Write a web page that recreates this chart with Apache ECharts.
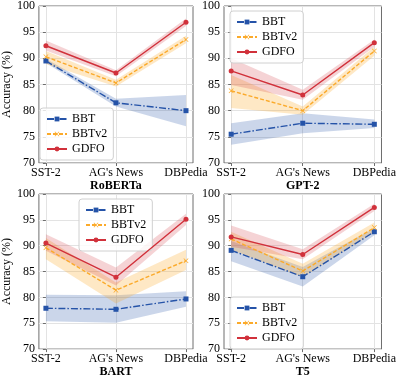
<!DOCTYPE html>
<html>
<head>
<meta charset="utf-8">
<script src="https://cdn.jsdelivr.net/npm/echarts@6/dist/echarts.min.js"></script>
<style>
  html, body { margin: 0; padding: 0; background: #fff; }
  #chart { width: 399px; height: 379px; }
</style>
</head>
<body>
<div id="chart"></div>
<script>
const categories = ['SST-2', "AG's News", 'DBPedia']
const models = ['RoBERTa', 'GPT-2', 'BART', 'T5']
const methods = ['BBT', 'BBTv2', 'GDFO']
const yTicks = [70, 75, 80, 85, 90, 95, 100]

// mean, lower and upper edge of the shaded band, per model and method
const robertaBBT = [89.5, 81.5, 80.0]
const robertaBBTLo = [89.1, 80.8, 77.0]
const robertaBBTHi = [89.9, 82.3, 83.0]
const robertaBBTv2 = [90.3, 85.3, 93.6]
const robertaBBTv2Lo = [88.9, 84.6, 92.9]
const robertaBBTv2Hi = [91.4, 85.9, 94.3]
const robertaGDFO = [92.4, 87.2, 96.9]
const robertaGDFOLo = [91.5, 86.6, 96.2]
const robertaGDFOHi = [93.4, 87.7, 97.6]

const gpt2BBT = [75.5, 77.6, 77.4]
const gpt2BBTLo = [73.5, 75.7, 76.7]
const gpt2BBTHi = [77.6, 79.5, 78.3]
const gpt2BBTv2 = [83.8, 80.0, 91.4]
const gpt2BBTv2Lo = [80.5, 79.2, 90.5]
const gpt2BBTv2Hi = [86.8, 80.8, 92.2]
const gpt2GDFO = [87.6, 83.0, 93.0]
const gpt2GDFOLo = [84.9, 82.1, 92.2]
const gpt2GDFOHi = [90.0, 84.0, 93.6]

const bartBBT = [77.9, 77.7, 79.7]
const bartBBTLo = [75.4, 75.1, 78.2]
const bartBBTHi = [80.5, 80.4, 81.2]
const bartBBTv2 = [89.6, 81.4, 87.1]
const bartBBTv2Lo = [87.4, 78.8, 85.3]
const bartBBTv2Hi = [91.5, 82.9, 89.2]
const bartGDFO = [90.5, 83.9, 95.1]
const bartGDFOLo = [89.0, 82.3, 94.0]
const bartGDFOHi = [92.2, 85.8, 96.2]

const t5BBT = [89.1, 84.0, 92.7]
const t5BBTLo = [87.0, 82.1, 92.0]
const t5BBTHi = [90.9, 85.9, 93.4]
const t5BBTv2 = [91.3, 85.1, 93.5]
const t5BBTv2Lo = [89.2, 83.9, 92.6]
const t5BBTv2Hi = [92.7, 86.5, 94.5]
const t5GDFO = [91.7, 88.3, 97.4]
const t5GDFOLo = [89.8, 87.4, 96.7]
const t5GDFOHi = [93.9, 89.3, 98.1]

const panels = [
  [[robertaBBT, robertaBBTLo, robertaBBTHi], [robertaBBTv2, robertaBBTv2Lo, robertaBBTv2Hi], [robertaGDFO, robertaGDFOLo, robertaGDFOHi]],
  [[gpt2BBT, gpt2BBTLo, gpt2BBTHi], [gpt2BBTv2, gpt2BBTv2Lo, gpt2BBTv2Hi], [gpt2GDFO, gpt2GDFOLo, gpt2GDFOHi]],
  [[bartBBT, bartBBTLo, bartBBTHi], [bartBBTv2, bartBBTv2Lo, bartBBTv2Hi], [bartGDFO, bartGDFOLo, bartGDFOHi]],
  [[t5BBT, t5BBTLo, t5BBTHi], [t5BBTv2, t5BBTv2Lo, t5BBTv2Hi], [t5GDFO, t5GDFOLo, t5GDFOHi]],
]

const font = '"Liberation Serif", "Times New Roman", serif'
const colors = ['#2553a8', '#fbaa2a', '#d1313b']
const bandColors = ['rgba(37,83,168,0.24)', 'rgba(251,170,42,0.27)', 'rgba(209,49,59,0.21)']
const lineTypes = [[7, 2, 1.5, 2], [4, 2], 'solid']
const xMark = 'path://M1,0 L5,4 L9,0 L10,1 L6,5 L10,9 L9,10 L5,6 L1,10 L0,9 L4,5 L0,1 Z'
const symbols = ['rect', xMark, 'circle']

const grids = [
  { left: 35, top: 6, width: 158, height: 157 },
  { left: 224, top: 6, width: 158, height: 157 },
  { left: 35, top: 194, width: 158, height: 158 },
  { left: 224, top: 194, width: 158, height: 158 },
]
const legendPos = [
  { left: 40, top: 108 },
  { left: 230, top: 11 },
  { left: 79, top: 199 },
  { left: 230, top: 297 },
]

const chart = echarts.init(document.getElementById('chart'), null, { renderer: 'canvas' })

const series = []
panels.forEach((panel, gi) => {
  panel.forEach(([mean, lo, hi], mi) => {
    // shaded band between lo and hi
    series.push({
      type: 'custom',
      name: methods[mi] + ' band',
      xAxisIndex: gi,
      yAxisIndex: gi,
      silent: true,
      z: 1,
      data: lo.map((v, i) => [i, v, hi[i]]),
      renderItem(params, api) {
        if (params.dataIndex !== 0) return
        const pts = []
        for (let i = 0; i < hi.length; i++) pts.push(api.coord([i, hi[i]]))
        for (let i = lo.length - 1; i >= 0; i--) pts.push(api.coord([i, lo[i]]))
        return { type: 'polygon', shape: { points: pts }, style: { fill: bandColors[mi] } }
      },
    })
    series.push({
      type: 'line',
      name: methods[mi],
      xAxisIndex: gi,
      yAxisIndex: gi,
      z: 3 + mi,
      data: mean.map((v, i) => [i, v]),
      symbol: symbols[mi],
      symbolSize: 5,
      color: colors[mi],
      lineStyle: { width: 1.4, type: lineTypes[mi], color: colors[mi] },
      itemStyle: { color: colors[mi] },
      animation: false,
    })
  })
})

const option = {
  animation: false,
  grid: grids.map(g => Object.assign({ show: true, borderColor: '#6e6e6e', borderWidth: 1, backgroundColor: 'transparent' }, g)),
  xAxis: grids.map((g, gi) => ({
    type: 'value',
    gridIndex: gi,
    min: -0.1,
    max: 2.1,
    name: models[gi],
    nameLocation: 'middle',
    nameGap: 15,
    nameTextStyle: { fontFamily: font, fontWeight: 'bold', fontSize: 12, color: '#000' },
    axisLine: { show: false },
    axisTick: { show: true, length: 3, customValues: [0, 1, 2], lineStyle: { color: '#6e6e6e' } },
    axisLabel: {
      customValues: [0, 1, 2],
      formatter: v => categories[Math.round(v)],
      fontFamily: font, fontSize: 12, color: '#000', margin: 4,
    },
    splitLine: { show: true, lineStyle: { color: '#e3e3e3', width: 1 } },
  })),
  yAxis: grids.map((g, gi) => ({
    type: 'value',
    gridIndex: gi,
    min: yTicks[0],
    max: yTicks[yTicks.length - 1],
    interval: 5,
    name: gi % 2 === 0 ? 'Accuracy (%)' : '',
    nameLocation: 'middle',
    nameGap: 23,
    nameTextStyle: { fontFamily: font, fontSize: 12, color: '#000' },
    axisLine: { show: false },
    axisTick: { show: true, length: 3, lineStyle: { color: '#6e6e6e' } },
    axisLabel: { fontFamily: font, fontSize: 12, color: '#000', margin: 4 },
    splitLine: { show: true, lineStyle: { color: '#e3e3e3', width: 1 } },
  })),
  legend: legendPos.map(p => ({
    data: methods,
    orient: 'vertical',
    left: p.left,
    top: p.top,
    padding: [5, 6],
    itemGap: 3,
    itemWidth: 20,
    itemHeight: 6,
    borderColor: '#d0d0d0',
    borderWidth: 1,
    borderRadius: 3,
    backgroundColor: 'rgba(255,255,255,0.8)',
    textStyle: { fontFamily: font, fontSize: 12, color: '#000', lineHeight: 12 },
    selectedMode: false,
  })),
  series,
}

chart.setOption(option)
</script>
</body>
</html>
